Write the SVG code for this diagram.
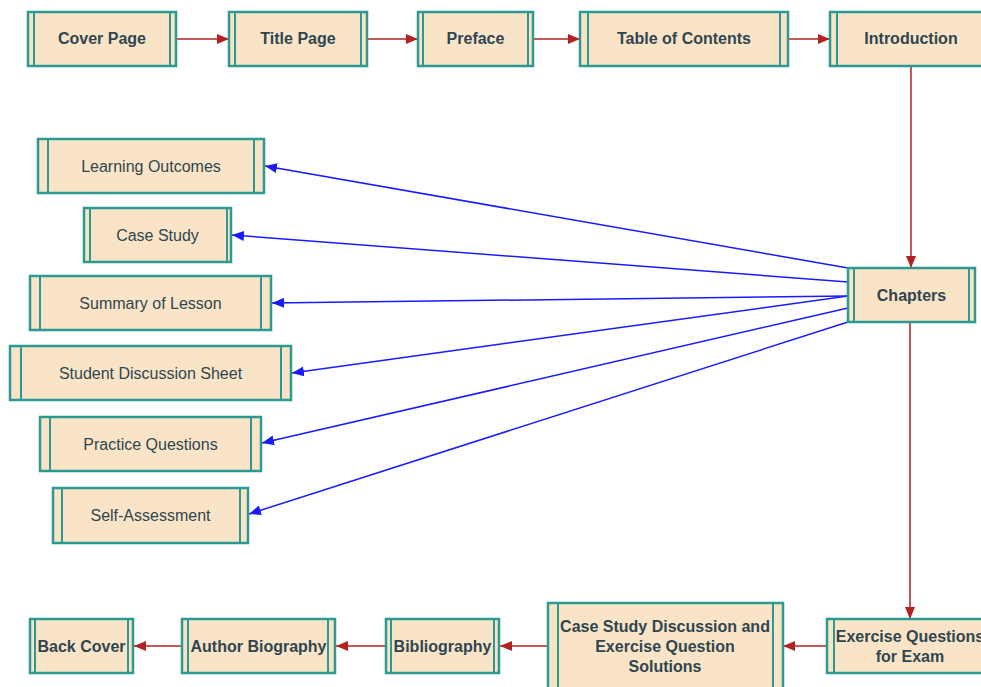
<svg xmlns="http://www.w3.org/2000/svg" width="981" height="687" viewBox="0 0 981 687">
<style>
.box{fill:#fae4c7;stroke:#2c9a92;stroke-width:2.5}
.bar{stroke:#2c9a92;stroke-width:2}
.t{font-family:"Liberation Sans",Arial,sans-serif;font-size:16px;fill:#2f4650;text-anchor:middle}
.b{font-weight:bold}
.red{stroke:#c45a57;stroke-width:2;fill:none}
.blue{stroke:#1a1aff;stroke-width:1.5;fill:none}
</style>
<defs>
<marker id="ar" markerUnits="userSpaceOnUse" markerWidth="12" markerHeight="10" viewBox="0 0 12 10" refX="12" refY="5" orient="auto"><path d="M0,0 L12,5 L0,10 z" fill="#b22222"/></marker>
<marker id="ab" markerUnits="userSpaceOnUse" markerWidth="12" markerHeight="10" viewBox="0 0 12 10" refX="12" refY="5" orient="auto"><path d="M0,0 L12,5 L0,10 z" fill="#1a1aff"/></marker>
</defs>
<rect width="981" height="687" fill="#ffffff"/>
<g id="connectors">
<path class="red" d="M176,39 L229,39" marker-end="url(#ar)"/>
<path class="red" d="M367,39 L418,39" marker-end="url(#ar)"/>
<path class="red" d="M533,39 L580,39" marker-end="url(#ar)"/>
<path class="red" d="M788,39 L830,39" marker-end="url(#ar)"/>
<path class="red" d="M911,66 L911,268" marker-end="url(#ar)"/>
<path class="red" d="M910,322 L910,619" marker-end="url(#ar)"/>
<path class="red" d="M827,646 L783,646" marker-end="url(#ar)"/>
<path class="red" d="M548,646 L500,646" marker-end="url(#ar)"/>
<path class="red" d="M386,646 L336,646" marker-end="url(#ar)"/>
<path class="red" d="M182,646 L134,646" marker-end="url(#ar)"/>
<path class="blue" d="M848,268 L265,166" marker-end="url(#ab)"/>
<path class="blue" d="M848,282 L232,235" marker-end="url(#ab)"/>
<path class="blue" d="M848,296 L272,303" marker-end="url(#ab)"/>
<path class="blue" d="M848,296 L292,373" marker-end="url(#ab)"/>
<path class="blue" d="M848,308 L262,443" marker-end="url(#ab)"/>
<path class="blue" d="M848,322 L249,514" marker-end="url(#ab)"/>
</g>
<g id="cover"><rect class="box" x="28" y="12" width="148" height="54"/><path class="bar" d="M34,12V66M170,12V66"/><text class="t b" x="102" y="44">Cover Page</text></g>
<g id="title"><rect class="box" x="229" y="12" width="138" height="54"/><path class="bar" d="M235,12V66M361,12V66"/><text class="t b" x="298" y="44">Title Page</text></g>
<g id="preface"><rect class="box" x="418" y="12" width="115" height="54"/><path class="bar" d="M423,12V66M528,12V66"/><text class="t b" x="475.5" y="44">Preface</text></g>
<g id="toc"><rect class="box" x="580" y="12" width="208" height="54"/><path class="bar" d="M588,12V66M780,12V66"/><text class="t b" x="684" y="44">Table of Contents</text></g>
<g id="intro"><rect class="box" x="830" y="12" width="162" height="54"/><path class="bar" d="M837,12V66M985,12V66"/><text class="t b" x="911" y="44">Introduction</text></g>
<g id="chapters"><rect class="box" x="848" y="268" width="127" height="54"/><path class="bar" d="M854,268V322M969,268V322"/><text class="t b" x="911.5" y="300.5">Chapters</text></g>
<g id="learning"><rect class="box" x="38" y="139" width="226" height="54"/><path class="bar" d="M48,139V193M254,139V193"/><text class="t" x="151" y="171.5">Learning Outcomes</text></g>
<g id="casestudy"><rect class="box" x="84" y="208" width="147" height="54"/><path class="bar" d="M90,208V262M227,208V262"/><text class="t" x="157.5" y="240.5">Case Study</text></g>
<g id="summary"><rect class="box" x="30" y="276" width="241" height="54"/><path class="bar" d="M40,276V330M261,276V330"/><text class="t" x="150.5" y="308.5">Summary of Lesson</text></g>
<g id="student"><rect class="box" x="10" y="346" width="281" height="54"/><path class="bar" d="M21,346V400M281,346V400"/><text class="t" x="150.5" y="378.5">Student Discussion Sheet</text></g>
<g id="practice"><rect class="box" x="40" y="417" width="221" height="54"/><path class="bar" d="M50,417V471M251,417V471"/><text class="t" x="150.5" y="449.5">Practice Questions</text></g>
<g id="selfassess"><rect class="box" x="53" y="488" width="195" height="55"/><path class="bar" d="M62,488V543M240,488V543"/><text class="t" x="150.5" y="521">Self-Assessment</text></g>
<g id="exercise"><rect class="box" x="827" y="619" width="166" height="54"/><path class="bar" d="M834,619V673M986,619V673"/><text class="t b" x="910" y="642">Exercise Questions</text><text class="t b" x="910" y="662">for Exam</text></g>
<g id="solutions"><rect class="box" x="548" y="603" width="235" height="90"/><path class="bar" d="M558,603V693M773,603V693"/><text class="t b" x="665" y="632">Case Study Discussion and</text><text class="t b" x="665" y="652">Exercise Question</text><text class="t b" x="665" y="672">Solutions</text></g>
<g id="bibliography"><rect class="box" x="386" y="619" width="113" height="54"/><path class="bar" d="M391,619V673M494,619V673"/><text class="t b" x="442.5" y="651.5">Bibliography</text></g>
<g id="author"><rect class="box" x="182" y="619" width="153" height="54"/><path class="bar" d="M188,619V673M328,619V673"/><text class="t b" x="258.5" y="651.5">Author Biography</text></g>
<g id="backcover"><rect class="box" x="30" y="619" width="103" height="54"/><path class="bar" d="M35,619V673M128,619V673"/><text class="t b" x="81.5" y="651.5">Back Cover</text></g>
</svg>
